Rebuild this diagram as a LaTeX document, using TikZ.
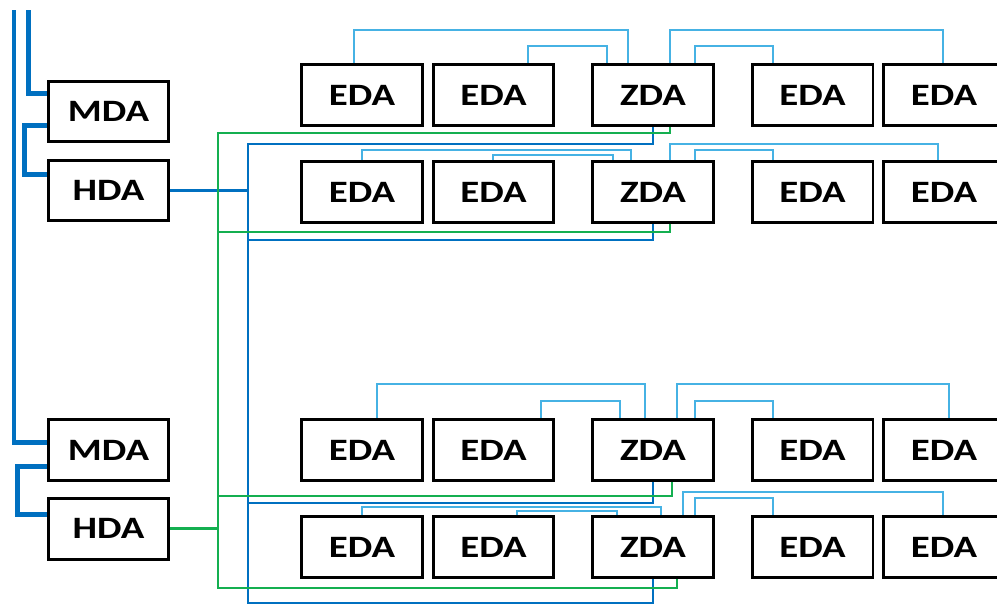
\documentclass[tikz,border=0pt]{standalone}
\usepackage{fontspec}
\newfontfamily\boxfont[FakeStretch=1.25]{Carlito}
\definecolor{busblue}{RGB}{0,112,192}
\definecolor{linkgreen}{RGB}{20,175,80}
\definecolor{lightlink}{RGB}{70,178,228}

\begin{document}
\begin{tikzpicture}[
  x=0.02cm, y=-0.02cm,
  box/.style={draw, line width=0.06cm, fill=white, minimum width=2.42cm, minimum height=1.22cm, inner sep=0pt, font=\boxfont\bfseries\fontsize{17.7pt}{20pt}\selectfont},
  bus/.style={busblue, line width=0.1cm},
  blu/.style={busblue, line width=0.05cm},
  grn/.style={linkgreen, line width=0.05cm},
  lnk/.style={lightlink, line width=0.03cm}
]
\useasboundingbox (0,0) rectangle (997,605);

% left side
\node[box] (mda1) at (108.5,111.5) {MDA};
\node[box] (hda1) at (108.5,190.5) {HDA};
\node[box] (mda2) at (108.5,450) {MDA};
\node[box] (hda2) at (108.5,528.5) {HDA};
\coordinate (busA) at (14,10);
\coordinate (busB) at (28,10);
\coordinate (bbus) at (248,0);
\coordinate (gbus) at (218,0);

% row 1
\node[box] (e11) at (362,95) {EDA};
\node[box] (e12) at (493.5,95) {EDA};
\node[box] (z1) at (653,95) {ZDA};
\node[box] (e14) at (812.5,95) {EDA};
\node[box] (e15) at (944,95) {EDA};
% row 2
\node[box] (e21) at (362,192) {EDA};
\node[box] (e22) at (493.5,192) {EDA};
\node[box] (z2) at (653,192) {ZDA};
\node[box] (e24) at (812.5,192) {EDA};
\node[box] (e25) at (944,192) {EDA};
% row 3
\node[box] (e31) at (362,450) {EDA};
\node[box] (e32) at (493.5,450) {EDA};
\node[box] (z3) at (653,450) {ZDA};
\node[box] (e34) at (812.5,450) {EDA};
\node[box] (e35) at (944,450) {EDA};
% row 4
\node[box] (e41) at (362,547) {EDA};
\node[box] (e42) at (493.5,547) {EDA};
\node[box] (z4) at (653,547) {ZDA};
\node[box] (e44) at (812.5,547) {EDA};
\node[box] (e45) at (944,547) {EDA};

% thick feeds
\draw[bus] (busA) |- ([yshift=0.16cm]mda2.west);
\draw[bus] (busB) |- ([yshift=0.37cm]mda1.west);
\draw[bus] ([yshift=-0.29cm]mda1.west) -- ++(-22,0) |- ([yshift=0.33cm]hda1.west);
\draw[bus] ([yshift=-0.32cm]mda2.west) -- ++(-29,0) |- ([yshift=0.29cm]hda2.west);

% blue trunk
\draw[blu] (hda1.east) -- (hda1.east -| bbus);
\draw[blu] (z1.south) -- ++(0,17) -| (248,603) -| (z4.south);
\draw[blu] (z2.south) |- (bbus |- 0,240);
\draw[blu] (z3.south) |- (bbus |- 0,503);

% green trunk
\draw[grn] (hda2.east) -- (hda2.east -| gbus);
\draw[grn] ([xshift=0.34cm]z1.south) |- (218,133) -- (218,588) -| ([xshift=0.48cm]z4.south);
\draw[grn] ([xshift=0.34cm]z2.south) |- (gbus |- 0,232);
\draw[grn] ([xshift=0.38cm]z3.south) |- (gbus |- 0,496);

% links row 1
\draw[lnk] (e11.north -| 354,0) -- ++(0,-33) -| (z1.north -| 628,0);
\draw[lnk] (e12.north -| 528,0) -- ++(0,-17) -| (z1.north -| 607,0);
\draw[lnk] (z1.north -| 670,0) -- ++(0,-33) -| (e15.north -| 943,0);
\draw[lnk] (z1.north -| 695,0) -- ++(0,-17) -| (e14.north -| 773,0);
% links row 2
\draw[lnk] (e21.north -| 362,0) -- ++(0,-10) -| (z2.north -| 631,0);
\draw[lnk] (e22.north -| 493,0) -- ++(0,-5) -| (z2.north -| 613,0);
\draw[lnk] (z2.north -| 670,0) -- ++(0,-16) -| (e25.north -| 938,0);
\draw[lnk] (z2.north -| 695,0) -- ++(0,-10) -| (e24.north -| 773,0);
% links row 3
\draw[lnk] (e31.north -| 377,0) -- ++(0,-34) -| (z3.north -| 645,0);
\draw[lnk] (e32.north -| 541,0) -- ++(0,-17) -| (z3.north -| 620,0);
\draw[lnk] (z3.north -| 677,0) -- ++(0,-34) -| (e35.north -| 949,0);
\draw[lnk] (z3.north -| 695,0) -- ++(0,-17) -| (e34.north -| 773,0);
% links row 4
\draw[lnk] (e41.north -| 362,0) -- ++(0,-8) -| (z4.north -| 661,0);
\draw[lnk] (e42.north -| 517,0) -- ++(0,-4) -| (z4.north -| 617,0);
\draw[lnk] (z4.north -| 683,0) -- ++(0,-23) -| (e45.north -| 943,0);
\draw[lnk] (z4.north -| 695,0) -- ++(0,-17) -| (e44.north -| 773,0);
\end{tikzpicture}
\end{document}
